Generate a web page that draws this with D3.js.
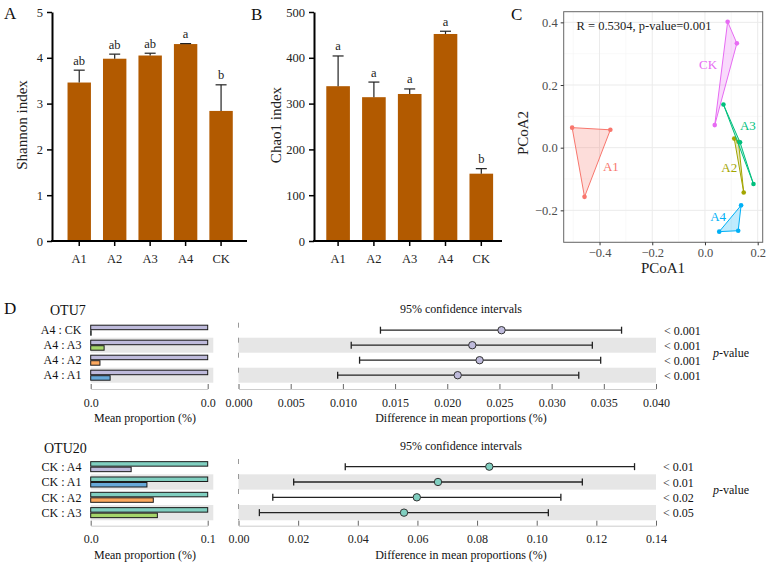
<!DOCTYPE html>
<html><head><meta charset="utf-8">
<script src="https://cdn.jsdelivr.net/npm/d3@7"></script>
<style>
body{margin:0;background:#fff}
svg{display:block}
svg text{font-family:"Liberation Serif","Times New Roman",serif}
</style>
</head><body>
<svg id="c" width="767" height="564"></svg>
<script>
// ---------------- DATA ----------------
const categories = ["A1","A2","A3","A4","CK"];
const shannonMean = [3.46, 3.98, 4.05, 4.30, 2.84];
const shannonErr  = [0.27, 0.10, 0.05, 0.01, 0.57];
const shannonLetters = ["ab","ab","ab","a","b"];
const shannonTicks = [0,1,2,3,4,5];
const chao1Mean = [338, 314, 321, 452, 147];
const chao1Err  = [66, 33, 11, 6, 11];
const chao1Letters = ["a","a","a","a","b"];
const chao1Ticks = [0,100,200,300,400,500];

const pcoaGroups = ["A1","A2","A3","A4","CK"];
const pcoaColors = ["#F8766D","#A3A500","#00BF7D","#00B0F6","#E76BF3"];
const pcoaA1 = [[-0.504,0.064],[-0.359,0.057],[-0.457,-0.157]];
const pcoaA2 = [[0.111,0.029],[0.127,0.019],[0.147,-0.143]];
const pcoaA3 = [[0.070,0.138],[0.133,0.017],[0.184,-0.116]];
const pcoaA4 = [[0.137,-0.184],[0.054,-0.268],[0.126,-0.265]];
const pcoaCK = [[0.086,0.402],[0.121,0.333],[0.037,0.072]];
const pcoaLabelPos = [[-0.357,-0.061],[0.092,-0.063],[0.163,0.071],[0.050,-0.220],[0.012,0.266]];
const pcoaXTicks = [-0.4,-0.2,0.0,0.2];
const pcoaYTicks = [-0.2,0.0,0.2,0.4];
const pcoaXMinor = [-0.5,-0.3,-0.1,0.1];
const pcoaYMinor = [-0.3,-0.1,0.1,0.3];
const pcoaStat = "R = 0.5304, p-value=0.001";

const diffGroupColors = {A1:"#66A8D8", A2:"#FBA85E", A3:"#A5D56A", A4:"#BEBADB", CK:"#80CFC0"};

const otu7Pairs = ["A4 : CK","A4 : A3","A4 : A2","A4 : A1"];
const otu7G1 = ["A4","A4","A4","A4"];
const otu7G2 = ["CK","A3","A2","A1"];
const otu7Mean1 = [0.0253,0.0253,0.0253,0.0253];
const otu7Mean2 = [0.0001,0.0029,0.0020,0.0042];
const otu7Diff = [0.0252,0.0224,0.0231,0.0210];
const otu7Lo = [0.0136,0.0108,0.0116,0.0095];
const otu7Hi = [0.0367,0.0339,0.0347,0.0326];
const otu7P = ["< 0.001","< 0.001","< 0.001","< 0.001"];
const otu7Ticks = [0,0.005,0.010,0.015,0.020,0.025,0.030,0.035,0.040];

const otu20Pairs = ["CK : A4","CK : A1","CK : A2","CK : A3"];
const otu20G1 = ["CK","CK","CK","CK"];
const otu20G2 = ["A4","A1","A2","A3"];
const otu20Mean1 = [0.129,0.129,0.129,0.129];
const otu20Mean2 = [0.0446,0.0620,0.0690,0.0735];
const otu20Diff = [0.0841,0.0669,0.0598,0.0555];
const otu20Lo = [0.0358,0.0185,0.0115,0.0070];
const otu20Hi = [0.1328,0.1153,0.1081,0.1039];
const otu20P = ["< 0.01","< 0.01","< 0.02","< 0.05"];
const otu20Ticks = [0,0.02,0.04,0.06,0.08,0.10,0.12,0.14];

// ---------------- DRAW ----------------
const svg = d3.select("#c");

function panelLetter(t, x, y){
  svg.append("text").attr("x",x).attr("y",y).attr("font-size",17).attr("fill","#111").text(t);
}

function barPanel(p){
  const x = d3.scaleBand().domain(categories).range([p.r0,p.r1]).paddingInner(0.34).paddingOuter(0.17);
  const y = d3.scaleLinear().domain([0,p.max]).range([241,12]);
  const g = svg.append("g");
  g.selectAll("rect.bar").data(categories).join("rect")
    .attr("x",d=>x(d)).attr("width",x.bandwidth())
    .attr("y",(d,i)=>y(p.mean[i])).attr("height",(d,i)=>y(0)-y(p.mean[i]))
    .attr("fill","#B25A00");
  const cx = d=>x(d)+x.bandwidth()/2;
  g.selectAll("line.err").data(categories).join("line")
    .attr("x1",cx).attr("x2",cx)
    .attr("y1",(d,i)=>y(p.mean[i])).attr("y2",(d,i)=>y(p.mean[i]+p.err[i]))
    .attr("stroke","#222").attr("stroke-width",1.2);
  g.selectAll("line.cap").data(categories).join("line")
    .attr("x1",d=>cx(d)-5.5).attr("x2",d=>cx(d)+5.5)
    .attr("y1",(d,i)=>y(p.mean[i]+p.err[i])).attr("y2",(d,i)=>y(p.mean[i]+p.err[i]))
    .attr("stroke","#222").attr("stroke-width",1.2);
  g.selectAll("text.let").data(categories).join("text")
    .attr("x",cx).attr("y",(d,i)=>y(p.mean[i]+p.err[i])-5.5)
    .attr("text-anchor","middle").attr("font-size",12.5).attr("fill","#222")
    .text((d,i)=>p.letters[i]);
  // y axis
  const ya = g.append("g").attr("transform",`translate(${p.ax},0)`)
    .call(d3.axisLeft(y).tickValues(p.ticks).tickFormat(d3.format("d")).tickSize(5).tickSizeOuter(0).tickPadding(4));
  ya.select(".domain").attr("stroke","#000").attr("stroke-width",2);
  ya.selectAll(".tick line").attr("stroke","#000").attr("stroke-width",1.5);
  ya.selectAll(".tick text").attr("font-size",12.5).attr("fill","#222");
  // x axis
  const xa = g.append("g").attr("transform","translate(0,241)")
    .call(d3.axisBottom(x).tickSize(5).tickPadding(8));
  xa.select(".domain").remove();
  xa.selectAll(".tick line").attr("stroke","#000").attr("stroke-width",1.5);
  xa.selectAll(".tick text").attr("font-size",12.5).attr("fill","#222");
  g.append("line").attr("x1",p.ax-1).attr("x2",p.axEnd).attr("y1",241).attr("y2",241)
    .attr("stroke","#000").attr("stroke-width",2);
  g.append("text").attr("transform",`translate(${p.titleX},125) rotate(-90)`)
    .attr("text-anchor","middle").attr("font-size",15).attr("fill","#222").text(p.title);
}

barPanel({r0:61.5, r1:238.8, ax:52, axEnd:247, max:5, ticks:shannonTicks,
  mean:shannonMean, err:shannonErr, letters:shannonLetters, title:"Shannon index", titleX:27});
barPanel({r0:320.2, r1:499.2, ax:314, axEnd:502, max:500, ticks:chao1Ticks,
  mean:chao1Mean, err:chao1Err, letters:chao1Letters, title:"Chao1 index", titleX:281});
panelLetter("A",4,19);
panelLetter("B",251,20);
panelLetter("C",511,20);
panelLetter("D",4,314);

// ---- Panel C ----
(function(){
  const x = d3.scaleLinear().domain([-0.536,0.219]).range([563.7,762.7]);
  const y = d3.scaleLinear().domain([-0.302,0.434]).range([242.3,11.7]);
  const g = svg.append("g");
  g.selectAll("line.mx").data(pcoaXMinor).join("line")
    .attr("x1",d=>x(d)).attr("x2",d=>x(d)).attr("y1",y.range()[0]).attr("y2",y.range()[1])
    .attr("stroke","#F4F4F4").attr("stroke-width",0.6);
  g.selectAll("line.my").data(pcoaYMinor).join("line")
    .attr("y1",d=>y(d)).attr("y2",d=>y(d)).attr("x1",x.range()[0]).attr("x2",x.range()[1])
    .attr("stroke","#F4F4F4").attr("stroke-width",0.6);
  g.selectAll("line.gx").data(pcoaXTicks).join("line")
    .attr("x1",d=>x(d)).attr("x2",d=>x(d)).attr("y1",y.range()[0]).attr("y2",y.range()[1])
    .attr("stroke","#EBEBEB").attr("stroke-width",1);
  g.selectAll("line.gy").data(pcoaYTicks).join("line")
    .attr("y1",d=>y(d)).attr("y2",d=>y(d)).attr("x1",x.range()[0]).attr("x2",x.range()[1])
    .attr("stroke","#EBEBEB").attr("stroke-width",1);
  const sets = [pcoaA1,pcoaA2,pcoaA3,pcoaA4,pcoaCK];
  sets.forEach((pts,i)=>{
    const px = pts.map(d=>[x(d[0]),y(d[1])]);
    const hull = d3.polygonHull(px);
    g.append("path").attr("d","M"+hull.join("L")+"Z")
      .attr("fill",pcoaColors[i]).attr("fill-opacity",0.25)
      .attr("stroke",pcoaColors[i]).attr("stroke-width",1);
    g.selectAll(null).data(px).join("circle").attr("cx",d=>d[0]).attr("cy",d=>d[1]).attr("r",2.3)
      .attr("fill",pcoaColors[i]);
    g.append("text").attr("x",x(pcoaLabelPos[i][0])).attr("y",y(pcoaLabelPos[i][1])).attr("dy","0.35em")
      .attr("text-anchor","middle").attr("font-size",13).attr("fill",pcoaColors[i]).text(pcoaGroups[i]);
  });
  g.append("rect").attr("x",563.7).attr("y",11.7).attr("width",199).attr("height",230.6)
    .attr("fill","none").attr("stroke","#666").attr("stroke-width",1);
  const xa = g.append("g").attr("transform","translate(0,242.3)")
    .call(d3.axisBottom(x).tickValues(pcoaXTicks).tickFormat(d3.format(".1f")).tickSize(3).tickPadding(3));
  xa.select(".domain").remove();
  xa.selectAll(".tick line").attr("stroke","#333");
  xa.selectAll(".tick text").attr("font-size",12.5).attr("fill","#4D4D4D");
  const ya = g.append("g").attr("transform","translate(563.7,0)")
    .call(d3.axisLeft(y).tickValues(pcoaYTicks).tickFormat(d3.format(".1f")).tickSize(3).tickPadding(3));
  ya.select(".domain").remove();
  ya.selectAll(".tick line").attr("stroke","#333");
  ya.selectAll(".tick text").attr("font-size",12.5).attr("fill","#4D4D4D");
  g.append("text").attr("x",663).attr("y",273).attr("text-anchor","middle").attr("font-size",15).attr("fill","#222").text("PCoA1");
  g.append("text").attr("transform","translate(528,133) rotate(-90)").attr("text-anchor","middle")
    .attr("font-size",15).attr("fill","#222").text("PCoA2");
  g.append("text").attr("x",576.5).attr("y",26).attr("dy","0.35em").attr("font-size",12.5).attr("fill","#222").text(pcoaStat);
})();

// ---- Panel D ----
function diffPanel(p){
  const g = svg.append("g");
  const rows = d3.scaleBand().domain(p.pairs).range([p.top,p.bottom]);
  const xL = d3.scaleLinear().domain([0,p.mean1[0]]).range([90.7,207.7]);
  const xR = d3.scaleLinear().domain([0,p.dmax]).range([238.5,656]);
  const bw = rows.bandwidth();
  p.pairs.forEach((d,i)=>{
    if(i%2===1){
      g.append("rect").attr("x",90.7).attr("y",rows(d)).attr("width",122.6).attr("height",bw).attr("fill","#E6E6E6");
      g.append("rect").attr("x",xR(0)).attr("y",rows(d)).attr("width",xR.range()[1]-xR(0)).attr("height",bw).attr("fill","#E6E6E6");
    }
  });
  g.append("text").attr("x",p.titleX).attr("y",p.titleY).attr("dy","0.35em").attr("font-size",14).attr("fill","#111").text(p.title);
  g.selectAll("text.row").data(p.pairs).join("text")
    .attr("x",81.5).attr("y",d=>rows(d)+bw/2).attr("dy","0.35em").attr("text-anchor","end")
    .attr("font-size",12).attr("fill","#111").text(d=>d);
  g.selectAll("rect.b1").data(p.pairs).join("rect")
    .attr("x",xL(0)).attr("y",d=>rows(d)+bw/2-5).attr("height",4.5)
    .attr("width",(d,i)=>xL(p.mean1[i])-xL(0))
    .attr("fill",(d,i)=>diffGroupColors[p.g1[i]]).attr("stroke","#1a1a1a").attr("stroke-width",1);
  g.selectAll("rect.b2").data(p.pairs).join("rect")
    .attr("x",xL(0)).attr("y",d=>rows(d)+bw/2+0.5).attr("height",4.5)
    .attr("width",(d,i)=>xL(p.mean2[i])-xL(0))
    .attr("fill",(d,i)=>diffGroupColors[p.g2[i]]).attr("stroke","#1a1a1a").attr("stroke-width",1);
  const la = g.append("g").attr("transform",`translate(0,${p.axisY})`)
    .call(d3.axisBottom(xL).tickValues([0,p.mean1[0]]).tickFormat(d3.format(".1f")).tickSize(-5).tickSizeOuter(0).tickPadding(9));
  la.select(".domain").attr("stroke","#ccc");
  la.selectAll(".tick line").attr("stroke","#666");
  la.selectAll(".tick text").attr("font-size",12).attr("fill","#222");
  const ra = g.append("g").attr("transform",`translate(0,${p.axisY})`)
    .call(d3.axisBottom(xR).tickValues(p.ticks).tickFormat(d3.format(p.fmt)).tickSize(-5).tickSizeOuter(0).tickPadding(9));
  ra.select(".domain").attr("stroke","#ccc");
  ra.selectAll(".tick line").attr("stroke","#666");
  ra.selectAll(".tick text").attr("font-size",12).attr("fill","#222");
  g.append("text").attr("x",145).attr("y",p.axisY+29).attr("dy","0.35em").attr("text-anchor","middle")
    .attr("font-size",12).attr("fill","#111").text("Mean proportion (%)");
  g.append("text").attr("x",461).attr("y",p.axisY+29).attr("dy","0.35em").attr("text-anchor","middle")
    .attr("font-size",12).attr("fill","#111").text("Difference in mean proportions (%)");
  g.append("text").attr("x",461).attr("y",p.ciY).attr("dy","0.35em").attr("text-anchor","middle")
    .attr("font-size",12).attr("fill","#111").text("95% confidence intervals");
  g.append("line").attr("x1",xR(0)).attr("x2",xR(0)).attr("y1",p.top).attr("y2",p.bottom)
    .attr("stroke","#999").attr("stroke-dasharray","5,10").attr("stroke-width",1);
  const cy = d=>rows(d)+bw/2;
  g.selectAll("line.ci").data(p.pairs).join("line")
    .attr("x1",(d,i)=>xR(p.lo[i])).attr("x2",(d,i)=>xR(p.hi[i])).attr("y1",cy).attr("y2",cy)
    .attr("stroke","#222").attr("stroke-width",1.3);
  g.selectAll("line.cl").data(p.pairs).join("line")
    .attr("x1",(d,i)=>xR(p.lo[i])).attr("x2",(d,i)=>xR(p.lo[i])).attr("y1",d=>cy(d)-3.5).attr("y2",d=>cy(d)+3.5)
    .attr("stroke","#222").attr("stroke-width",1.3);
  g.selectAll("line.ch").data(p.pairs).join("line")
    .attr("x1",(d,i)=>xR(p.hi[i])).attr("x2",(d,i)=>xR(p.hi[i])).attr("y1",d=>cy(d)-3.5).attr("y2",d=>cy(d)+3.5)
    .attr("stroke","#222").attr("stroke-width",1.3);
  g.selectAll("circle.pt").data(p.pairs).join("circle")
    .attr("cx",(d,i)=>xR(p.diff[i])).attr("cy",cy).attr("r",3.7)
    .attr("fill",diffGroupColors[p.g1[0]]).attr("stroke","#333").attr("stroke-width",1);
  g.selectAll("text.pv").data(p.pairs).join("text")
    .attr("x",p.pX).attr("y",d=>cy(d)+0.5).attr("dy","0.35em").attr("font-size",12).attr("fill","#111")
    .text((d,i)=>p.p[i]);
  const pv = g.append("text").attr("x",713).attr("y",(p.top+p.bottom)/2).attr("dy","0.35em")
    .attr("font-size",12).attr("fill","#111");
  pv.append("tspan").attr("font-style","italic").text("p");
  pv.append("tspan").text("-value");
}

diffPanel({pairs:otu7Pairs, g1:otu7G1, g2:otu7G2, mean1:otu7Mean1, mean2:otu7Mean2,
  diff:otu7Diff, lo:otu7Lo, hi:otu7Hi, p:otu7P, ticks:otu7Ticks, dmax:0.04, fmt:".3f",
  top:322.7, bottom:382.7, axisY:389, ciY:309, title:"OTU7", titleX:50, titleY:310, pX:664});
diffPanel({pairs:otu20Pairs, g1:otu20G1, g2:otu20G2, mean1:otu20Mean1, mean2:otu20Mean2,
  diff:otu20Diff, lo:otu20Lo, hi:otu20Hi, p:otu20P, ticks:otu20Ticks, dmax:0.14, fmt:".2f",
  top:459, bottom:520.3, axisY:525.7, ciY:446, title:"OTU20", titleX:44, titleY:448.5, pX:663});
</script>
</body></html>
